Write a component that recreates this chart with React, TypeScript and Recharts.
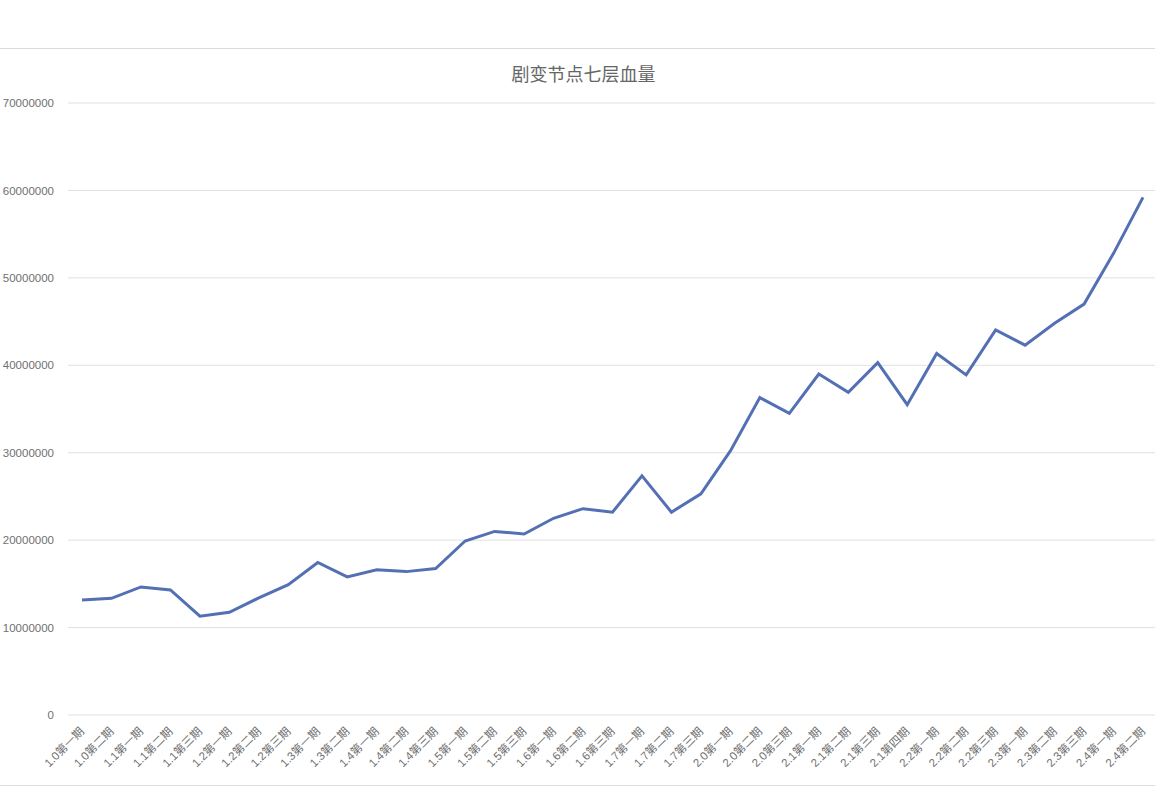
import { LineChart, Line, XAxis, YAxis, CartesianGrid } from 'recharts'

const periods = [
  '1.0第一期', '1.0第二期', '1.1第一期', '1.1第二期', '1.1第三期',
  '1.2第一期', '1.2第二期', '1.2第三期', '1.3第一期', '1.3第二期',
  '1.4第一期', '1.4第二期', '1.4第三期', '1.5第一期', '1.5第二期',
  '1.5第三期', '1.6第一期', '1.6第二期', '1.6第三期', '1.7第一期',
  '1.7第二期', '1.7第三期', '2.0第一期', '2.0第二期', '2.0第三期',
  '2.1第一期', '2.1第二期', '2.1第三期', '2.1第四期', '2.2第一期',
  '2.2第二期', '2.2第三期', '2.3第一期', '2.3第二期', '2.3第三期',
  '2.4第一期', '2.4第二期',
]

const hp = [
  13150000, 13350000, 14650000, 14300000, 11300000,
  11750000, 13400000, 14900000, 17450000, 15800000,
  16600000, 16400000, 16750000, 19900000, 21000000,
  20700000, 22500000, 23600000, 23200000, 27350000,
  23200000, 25300000, 30200000, 36300000, 34500000,
  39000000, 36900000, 40300000, 35500000, 41350000,
  38900000, 44050000, 42300000, 44800000, 47000000,
  52800000, 59200000,
]

const yTicks = [0, 10000000, 20000000, 30000000, 40000000, 50000000, 60000000, 70000000]

const data = periods.map((p, i) => ({ period: p, hp: hp[i] }))

const tickFont = '"Liberation Sans", "Noto Sans CJK SC", sans-serif'

const AngledTick = (props: any) => {
  const { x, y, payload } = props
  return (
    <text
      x={x + 3}
      y={y + 9}
      textAnchor="end"
      fontSize={11.5}
      fontFamily={tickFont}
      fill="#707070"
      transform={`rotate(-45, ${x + 3}, ${y + 9})`}
    >
      {payload.value}
    </text>
  )
}

export default function App() {
  return (
    <div
      style={{
        position: 'absolute',
        left: 0,
        top: 0,
        width: 1155,
        height: 787,
        background: '#fff',
        fontFamily: '"Noto Sans CJK SC", "Noto Sans", sans-serif',
      }}
    >
      <div style={{ position: 'absolute', left: 0, top: 48, width: 1155, height: 1, background: '#dcdcdc' }} />
      <div style={{ position: 'absolute', left: 0, top: 785, width: 1155, height: 1, background: '#dcdcdc' }} />
      <div
        style={{
          position: 'absolute',
          left: 0,
          top: 60,
          width: 1167,
          textAlign: 'center',
          fontSize: 18,
          color: '#666',
        }}
      >
        剧变节点七层血量
      </div>
      <LineChart
        width={1155}
        height={787}
        data={data}
        margin={{ top: 103, right: 0, bottom: 0, left: 0 }}
      >
        <CartesianGrid vertical={false} stroke="#e0e0e0" />
        <XAxis
          dataKey="period"
          interval={0}
          height={72}
          axisLine={false}
          tickLine={false}
          padding={{ left: 14, right: 12 }}
          tick={<AngledTick />}
        />
        <YAxis
          width={68}
          domain={[0, 70000000]}
          ticks={yTicks}
          axisLine={false}
          tickLine={false}
          tickMargin={8}
          tick={{ fontSize: 11.5, fill: '#707070', fontFamily: tickFont }}
        />
        <Line
          type="linear"
          dataKey="hp"
          stroke="#5470b4"
          strokeWidth={3}
          dot={false}
          isAnimationActive={false}
        />
      </LineChart>
    </div>
  )
}
